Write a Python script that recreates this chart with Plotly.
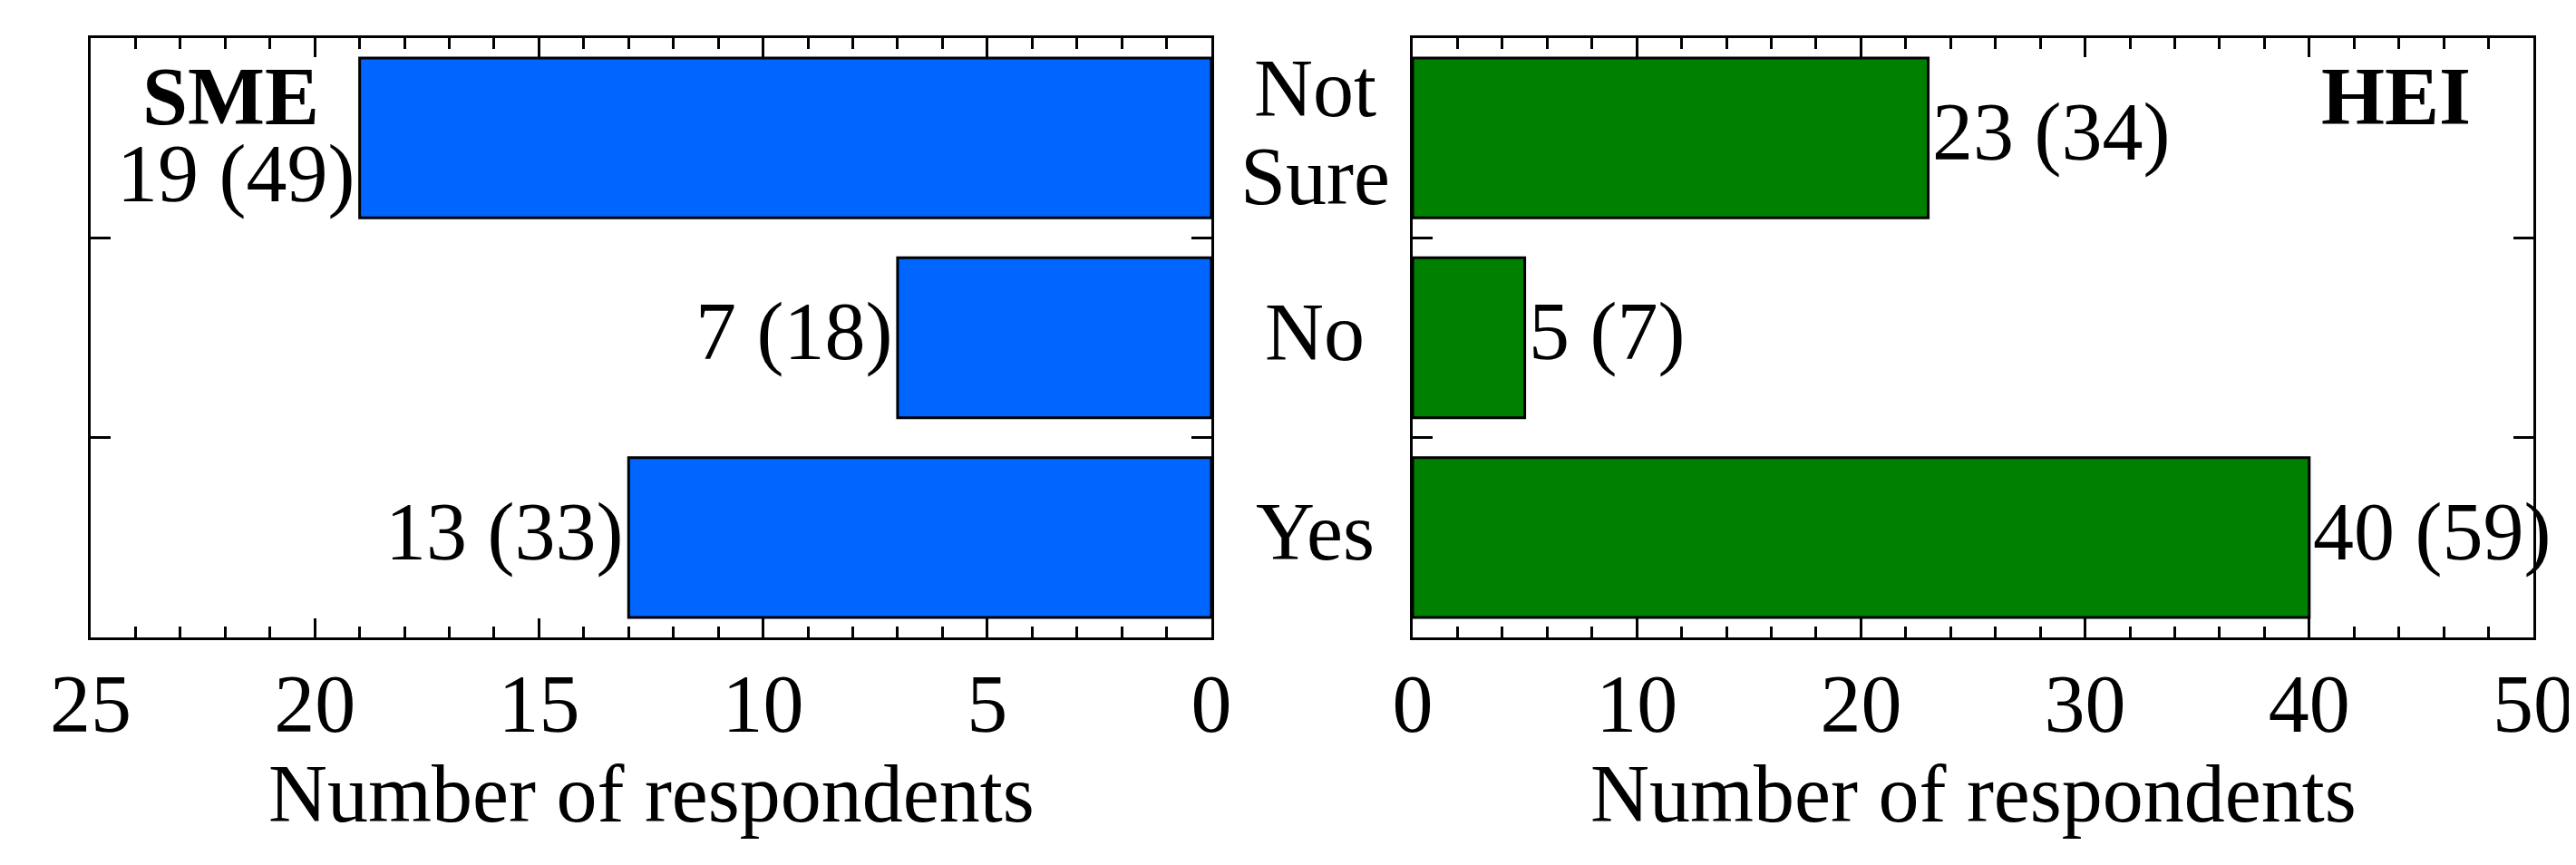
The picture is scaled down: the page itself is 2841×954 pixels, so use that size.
import plotly.graph_objects as go

categories = ["Not Sure", "No", "Yes"]
sme_counts = [19, 7, 13]
sme_pct = [49, 18, 33]
hei_counts = [23, 5, 40]
hei_pct = [34, 7, 59]
sme_ticks = [25, 20, 15, 10, 5, 0]
hei_ticks = [0, 10, 20, 30, 40, 50]
axis_title = "Number of respondents"
panel_names = ["SME", "HEI"]

W, H = 2841, 954
FONT = "Liberation Serif"
FS = 90
BLUE = "rgb(0,102,255)"
GREEN = "rgb(0,128,0)"
TXT_DY = 6

def px(x):
    return x / W

def py(y):
    return 1 - y / H

fig = go.Figure()
fig.add_trace(go.Bar(y=categories, x=sme_counts, orientation="h", xaxis="x", yaxis="y",
                     marker=dict(color=BLUE, line=dict(color="black", width=3)),
                     showlegend=False, hoverinfo="skip"))
fig.add_trace(go.Bar(y=categories, x=hei_counts, orientation="h", xaxis="x2", yaxis="y2",
                     marker=dict(color=GREEN, line=dict(color="black", width=3)),
                     showlegend=False, hoverinfo="skip"))

ydom = [py(695), py(34)]
common_x = dict(showline=True, linecolor="black", linewidth=3, mirror="ticks",
                ticks="inside", ticklen=21, tickwidth=3, tickcolor="black",
                showgrid=False, zeroline=False, automargin=False,
                tickfont=dict(family=FONT, size=FS, color="black"),
                ticklabelstandoff=-7)
common_y = dict(showline=True, linecolor="black", linewidth=3, mirror="ticks",
                ticks="inside", ticklen=22, tickwidth=3, tickcolor="black",
                tickson="boundaries", showticklabels=False, showgrid=False,
                zeroline=False, automargin=False,
                autorange="reversed", domain=ydom)

fig.update_layout(
    template="none",
    width=W, height=H,
    margin=dict(l=0, r=0, t=0, b=0, pad=0),
    paper_bgcolor="white", plot_bgcolor="white",
    bargap=0.2,
    xaxis=dict(common_x, domain=[px(92), px(1328)], range=[25, 0],
               tickvals=sme_ticks, ticktext=[str(t) for t in sme_ticks],
               minor=dict(dtick=1, ticklen=12, tickwidth=3, ticks="inside", tickcolor="black",
                          showgrid=False),
               anchor="y"),
    yaxis=dict(common_y, anchor="x"),
    xaxis2=dict(common_x, domain=[px(1550), px(2786)], range=[0, 50],
                tickvals=hei_ticks, ticktext=[str(t) for t in hei_ticks],
                minor=dict(dtick=2, ticklen=12, tickwidth=3, ticks="inside", tickcolor="black",
                           showgrid=False),
                anchor="y2"),
    yaxis2=dict(common_y, anchor="x2"),
)

ann = []
tfont = dict(family=FONT, size=FS, color="black")
# value labels
for i, (c, v, p) in enumerate(zip(categories, sme_counts, sme_pct)):
    ann.append(dict(x=v, y=c, xref="x", yref="y", text=f"{v} ({p})", showarrow=False,
                    xanchor="right", yanchor="middle", xshift=-4,
                    yshift=(-40 if i == 0 else TXT_DY), font=tfont))
for c, v, p in zip(categories, hei_counts, hei_pct):
    ann.append(dict(x=v, y=c, xref="x2", yref="y2", text=f"{v} ({p})", showarrow=False,
                    xanchor="left", yanchor="middle", xshift=2, yshift=TXT_DY, font=tfont))
# category labels between panels
for c in categories:
    lines = c.split(" ")
    n = len(lines)
    for j, ln in enumerate(lines):
        ann.append(dict(x=px(1442), y=c, xref="paper", yref="y", text=ln, showarrow=False,
                        xanchor="center", yanchor="middle",
                        yshift=((n - 1) / 2 - j) * 97 + TXT_DY, font=tfont))
# panel names
ann.append(dict(x=px(147), y=py(99), xref="paper", yref="paper", text=f"<b>{panel_names[0]}</b>",
                showarrow=False, xanchor="left", yanchor="middle", font=tfont))
ann.append(dict(x=px(2719), y=py(99), xref="paper", yref="paper", text=f"<b>{panel_names[1]}</b>",
                showarrow=False, xanchor="right", yanchor="middle", font=tfont))
# axis titles
ann.append(dict(x=px((92 + 1328) / 2), y=py(867), xref="paper", yref="paper", text=axis_title,
                showarrow=False, xanchor="center", yanchor="middle", font=tfont))
ann.append(dict(x=px((1550 + 2786) / 2), y=py(867), xref="paper", yref="paper", text=axis_title,
                showarrow=False, xanchor="center", yanchor="middle", font=tfont))
fig.update_layout(annotations=ann)

fig.write_html("out.html")
